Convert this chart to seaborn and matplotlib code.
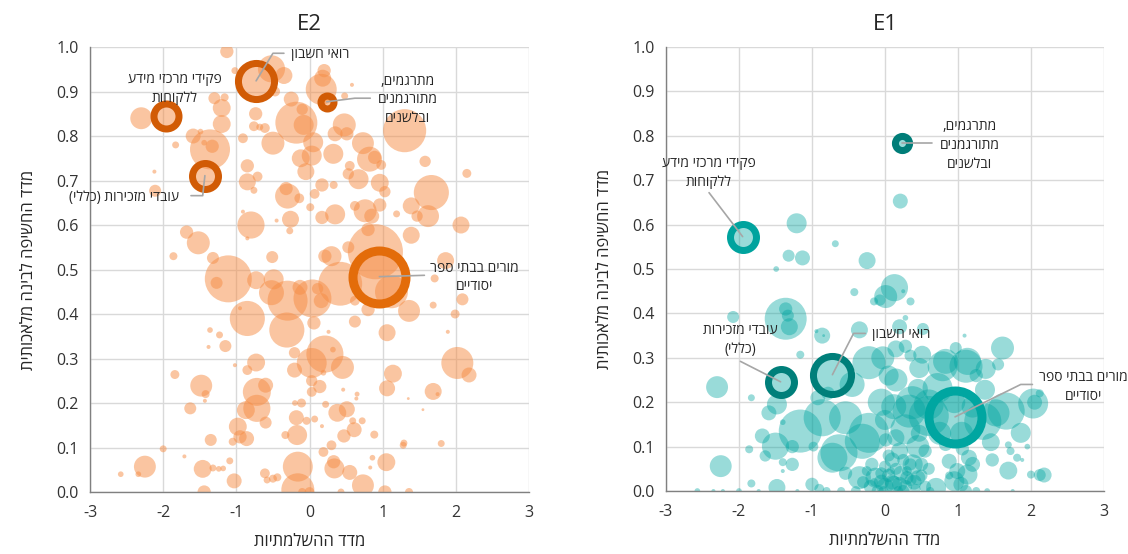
"""
Bubble charts: AI exposure index vs. complementarity index (E2 / E1).
"""

import numpy as np
import pandas as pd
import matplotlib
matplotlib.use('Agg')
import matplotlib.pyplot as plt
import seaborn as sns

sns.set_style('white')
plt.rcParams['font.family'] = ['Open Sans', 'DejaVu Sans']
plt.rcParams['axes.unicode_minus'] = False

# ---------------- data ----------------
X_LABEL = 'מדד ההשלמתיות'
Y_LABEL = 'מדד החשיפה לבינה מלאכותית'
X_TICKS = [-3, -2, -1, 0, 1, 2, 3]
Y_TICKS = [0.0, 0.1, 0.2, 0.3, 0.4, 0.5, 0.6, 0.7, 0.8, 0.9, 1.0]

# E2 occupations: complementarity, exposure, employment (thousands)
e2_x = [-2.30, -2.11, -2.12, -1.83, -1.36, -1.33, -1.59, -1.20, -1.20, -1.30, -1.16, -1.49, -1.44, -1.13,
        -0.736, -0.76, -0.68, -0.61, -0.50, -0.91, -0.85, -0.85, -0.71, -0.76, -0.80, -0.85, -0.91, -0.32,
        -0.30, -0.14, -0.26, -0.27, -0.45, -0.25, -0.18, -0.08, -0.35, -0.52, -1.02, -1.68, -1.52, -1.86,
        -1.32, -0.51, -0.98, -0.47,
        0.20, 0.18, 0.16, 0.48, 1.30, 0.58, 1.58, 2.15, 0.475, 0.35, 0.51, 0.73, 0.89, 0.82, 0.98, 0.96,
        1.03, 0.67, 0.55, 0.53, 0.325, 0.05, 0.03, 0.17, 0.33, 0.07, 0.01, 0.35, 0.17, 0.62, 0.76, 0.85,
        0.96, 1.665, 1.39, 1.62, 1.47, 1.19, 2.07, 1.39, 0.80, 0.53, 0.21, 1.86, -0.10, -0.12, -0.05, 0.90,
        0.30,
        -1.11, -1.27, -0.73, -0.49, -0.52, -0.30, -0.85, -0.95, -0.31, -1.36, -1.23, -1.15, -1.38, -0.205,
        -0.73, -0.85, -1.02, -0.205, -1.84, -1.48, -1.42, -1.43, -0.72, -0.60, -0.72, -0.87, -1.63, -0.60,
        -0.98, -0.95, -0.86, -1.05, -1.35, -0.18, -0.17, -0.33, -2.00, -2.25, -2.58, -2.34, -1.46, -1.32,
        -1.09, -1.03, -0.61, -0.58, -0.50, -0.44, -0.16, -0.16, -1.44, -1.71, -1.24, -1.18, -0.11, -0.20,
        0.42, 1.12, 1.36, 1.71, 1.69, 2.09, 1.99, 1.89, 1.06, 0.62, 0.80, 0.62, 0.21, 0.03, 0.45, 0.32,
        0.19, 1.14, 1.06, 2.02, 2.18, 1.69, 1.75, 0.03, 0.14, 0.03, 0.46, 0.65, 0.64, 0.22, 0.38, 0.51,
        0.07, -0.04, 0.59, 0.72, 0.61, 0.47, 0.885, 0.17, 0.30, 0.19, 1.28, 1.80, 1.05, 0.86, 0.83, 0.34,
        0.33, 0.55, 0.73, 1.03, 1.36, 0.43, 0.00, -0.10, 1.29, 1.55, 1.35, 0.26, 0.04, -0.13, 0.16, 0.11,
        0.06]
e2_y = [0.84, 0.677, 0.72, 0.78, 0.77, 0.777, 0.80, 0.827, 0.863, 0.885, 0.887, 0.81, 0.785, 0.99,
        0.85, 0.822, 0.82, 0.818, 0.784, 0.795, 0.733, 0.697, 0.709, 0.678, 0.60, 0.57, 0.63, 0.682,
        0.665, 0.66, 0.613, 0.587, 0.61, 0.883, 0.83, 0.825, 0.936, 0.951, 0.947, 0.584, 0.56, 0.53,
        0.526, 0.528, 0.93, 0.90,
        0.947, 0.93, 0.905, 0.89, 0.812, 0.915, 0.743, 0.716, 0.825, 0.805, 0.805, 0.784, 0.752, 0.748,
        0.735, 0.695, 0.675, 0.703, 0.733, 0.715, 0.76, 0.786, 0.756, 0.69, 0.69, 0.67, 0.64, 0.624,
        0.617, 0.643, 0.632, 0.62, 0.645, 0.673, 0.643, 0.62, 0.62, 0.625, 0.60, 0.577, 0.59, 0.55, 0.53,
        0.52, 0.86, 0.75, 0.72, 0.54, 0.53,
        0.479, 0.47, 0.476, 0.478, 0.448, 0.43, 0.39, 0.413, 0.364, 0.364, 0.353, 0.328, 0.326, 0.313,
        0.291, 0.274, 0.285, 0.274, 0.264, 0.239, 0.22, 0.205, 0.225, 0.24, 0.188, 0.184, 0.188, 0.156,
        0.147, 0.124, 0.12, 0.113, 0.117, 0.167, 0.128, 0.128, 0.097, 0.057, 0.04, 0.04, 0.052, 0.054,
        0.07, 0.025, 0.042, 0.027, 0.03, 0.033, 0.057, 0.005, 0.0, 0.08, 0.052, 0.053, 0.2, 0.20,
        0.468, 0.45, 0.407, 0.48, 0.42, 0.433, 0.40, 0.36, 0.358, 0.383, 0.41, 0.43, 0.31, 0.29, 0.28,
        0.32, 0.268, 0.266, 0.233, 0.29, 0.263, 0.226, 0.22, 0.25, 0.237, 0.225, 0.23, 0.22, 0.21, 0.197,
        0.178, 0.186, 0.164, 0.16, 0.16, 0.16, 0.14, 0.126, 0.129, 0.148, 0.105, 0.09, 0.105, 0.109,
        0.067, 0.077, 0.055, 0.053, 0.068, 0.044, 0.015, 0.0, 0.0, 0.0, 0.0, 0.0, 0.11, 0.185, 0.21, 0.36,
        0.435, 0.46, 0.43, 0.457, 0.38]
e2_emp = [30, 9, 1, 3, 100, 11, 14, 20, 20, 9, 4, 2, 2, 11,
          11, 6, 3, 6, 33, 6, 11, 18, 6, 3, 46, 1, 1, 11,
          39, 6, 18, 3, 1, 14, 110, 25, 18, 46, 3, 11, 33, 4,
          9, 9, 2, 6,
          11, 18, 60, 3, 116, 1, 8, 5, 33, 14, 11, 30, 11, 39, 6, 20,
          8, 25, 6, 8, 25, 25, 25, 11, 4, 6, 4, 25, 11, 6, 33, 14,
          11, 77, 18, 30, 8, 3, 18, 18, 11, 9, 11, 18, 8, 20, 18, 190,
          25,
          138, 9, 20, 25, 39, 100, 77, 1, 77, 2, 3, 9, 1, 8,
          20, 6, 1, 14, 5, 30, 4, 1, 49, 14, 46, 20, 9, 9,
          20, 11, 14, 4, 9, 14, 25, 4, 3, 30, 2, 2, 20, 3,
          3, 14, 6, 3, 4, 4, 56, 68, 11, 1, 2, 2, 5, 2,
          120, 68, 30, 4, 3, 9, 5, 1, 18, 9, 11, 6, 86, 56, 33, 2,
          2, 20, 16, 64, 14, 18, 1, 8, 11, 6, 1, 1.5, 1, 3, 20, 16,
          3, 4, 3, 3, 14, 11, 4, 1, 6, 6, 3, 3, 20, 2, 1, 25,
          11, 14, 30, 11, 4, 3, 6, 4, 3, 0.5, 0.5, 1, 90, 14, 14, 8,
          11]

# E1 occupations
e1_x = [0.21, -1.21, -0.68, -1.32, -1.13, -0.245, -1.49,
        -1.36, -1.36, -1.31, -1.33, -2.08, -0.86, -0.35, -0.42, 0.13, 0.01, -0.07, 0.25, 0.35, 0.28,
        -1.16, -0.84, -2.30, -1.83, -1.48, -1.59, -1.16, -0.86, -0.54, -0.31, -0.72, -1.50, -1.68, -1.27,
        -0.98, -1.40, -1.86, -2.25, -1.64, -1.40, -1.27, -1.40, -1.83, -1.48, -2.57, -2.35, -2.22, -2.00,
        -1.73, -1.20, -1.00, -0.90, -0.35, -0.54, -0.13, -0.18, -0.80, -0.60,
        0.20, 0.28, 0.51, -0.22, -0.03, 0.05, 1.61, 0.79, 1.11, 1.38, 1.55, 1.25, 0.375, 0.28, 0.60,
        -0.63, -0.22, 0.00, 1.52, 2.03, 2.05, 2.12, 1.86, 1.47, 1.15, 0.99, 0.88, 0.95, 1.11,
        0.47, 0.72, 0.83, 0.97, 1.13, 1.37, 0.60, 0.33, 0.12, 1.34, 1.66, 1.81, 1.88, 1.69, 2.00, 2.12,
        2.18, 1.13, 0.88, 0.70, 1.04, 0.38, 0.20, 0.01, 0.15, 0.47, 0.83, 1.06, 1.25, 1.40, 1.75, 0.55,
        0.45,
        -0.05, 0.05, 0.12, 0.22, 0.28, 0.35, 0.45, 0.55, -0.20, -0.10, 0.00, 0.10, 0.30, 0.42, -0.25,
        -0.02, 0.18, 0.62, 0.08, -0.15, 0.25, 0.50,
        -0.45, 0.15, -0.05, 0.45, -0.92, -0.78, 0.95, 1.20, 1.05, 0.75, 1.45, 1.95, 1.20, 0.15, 0.35,
        -0.15, 0.52, 1.09, 1.69, 1.72, -0.94,
        0.00, 0.10, 0.20, 0.30, 0.40, 0.15, -0.05, 0.25, 0.50, 0.35, -0.30, -0.40, 0.60, 0.05]
e1_y = [0.653, 0.603, 0.557, 0.53, 0.525, 0.519, 0.50,
        0.388, 0.41, 0.37, 0.395, 0.392, 0.35, 0.363, 0.448, 0.458, 0.438, 0.43, 0.45, 0.427, 0.39,
        0.307, 0.35, 0.234, 0.21, 0.195, 0.176, 0.135, 0.165, 0.165, 0.112, 0.075, 0.101, 0.124, 0.10,
        0.10, 0.155, 0.094, 0.056, 0.079, 0.065, 0.06, 0.045, 0.017, 0.008, 0.0, 0.0, 0.0, 0.0,
        0.0, 0.0, 0.015, 0.005, 0.03, 0.04, 0.03, 0.06, 0.0, 0.0,
        0.37, 0.326, 0.307, 0.289, 0.30, 0.26, 0.322, 0.281, 0.281, 0.275, 0.285, 0.26, 0.199, 0.139,
        0.169, 0.086, 0.131, 0.16, 0.176, 0.197, 0.20, 0.22, 0.131, 0.07, 0.075, 0.045, 0.067,
        0.022, 0.0,
        0.277, 0.232, 0.292, 0.322, 0.292, 0.228, 0.195, 0.18, 0.19, 0.157, 0.18, 0.075, 0.07, 0.046,
        0.037, 0.036, 0.036, 0.037, 0.035, 0.007, 0.015, 0.06, 0.09, 0.115, 0.12, 0.13, 0.105, 0.095,
        0.0, 0.0, 0.0, 0.09, 0.10,
        0.02, 0.035, 0.015, 0.04, 0.01, 0.025, 0.03, 0.01, 0.01, 0.0, 0.055, 0.07, 0.045, 0.005, 0.045,
        0.0, 0.0, 0.0, 0.045, 0.02, 0.07, 0.06,
        0.24, 0.25, 0.20, 0.23, 0.21, 0.22, 0.20, 0.19, 0.13, 0.13, 0.11, 0.10, 0.06, 0.32, 0.305,
        0.427, 0.365, 0.35, 0.104, 0.09, 0.36,
        0.01, 0.02, 0.015, 0.03, 0.02, 0.05, 0.04, 0.0, 0.035, 0.06, 0.02, 0.0, 0.05, 0.08]
e1_emp = [14, 25, 3, 9, 14, 18, 2,
          110, 11, 18, 9, 9, 16, 18, 4, 46, 33, 8, 1, 4, 2,
          4, 0.5, 30, 3, 25, 14, 116, 86, 68, 77, 56, 46, 14, 11,
          6, 2, 4, 30, 8, 4, 11, 1, 4, 18, 2, 1, 1, 2,
          1, 1, 11, 6, 33, 11, 25, 11, 4, 4,
          14, 11, 20, 68, 33, 25, 33, 56, 68, 25, 9, 11, 68, 56, 100,
          86, 100, 25, 46, 56, 14, 4, 25, 11, 16, 16, 14, 25, 9,
          25, 56, 39, 9, 46, 25, 56, 68, 39, 86, 86, 4, 1, 20, 4, 9,
          14, 25, 4, 25, 14, 25, 18, 11, 18, 18, 11, 11, 4, 2, 1, 11,
          33,
          14, 11, 18, 14, 11, 9, 14, 9, 11, 9, 9, 14, 6, 6, 6,
          6, 6, 4, 4, 4, 9, 11,
          39, 33, 46, 25, 14, 11, 30, 30, 33, 33, 20, 2, 14, 18, 9,
          4, 9, 1, 3, 4, 1,
          18, 14, 14, 11, 14, 9, 9, 9, 9, 9, 9, 6, 9, 9]

# highlighted occupations (same order in both panels)
HL_NAMES = ['רואי חשבון', 'פקידי מרכזי מידע ללקוחות', 'עובדי מזכירות (כללי)',
            'מתרגמים, מתורגמנים ובלשנים', 'מורים בבתי ספר יסודיים']
e2_hl_x = [-0.73, -1.955, -1.43, 0.235, 0.955]
e2_hl_y = [0.924, 0.845, 0.711, 0.877, 0.484]
e2_hl_emp = [116, 64, 68, 25, 240]
e1_hl_x = [-0.72, -1.95, -1.43, 0.24, 0.96]
e1_hl_y = [0.262, 0.573, 0.246, 0.783, 0.167]
e1_hl_emp = [127, 68, 68, 28, 240]

# ---------------- styles / layout ----------------
EMP_MAX = 250
PX = 0.72                      # points per pixel at dpi 100
SMAX = (PX * 4) ** 2 * EMP_MAX # bubble diameter = 4 * sqrt(emp) px

E2_COLOR, E2_ALPHA = '#F68D45', 0.5
E2_RING = ['#D15B05', '#D15B05', '#D15B05', '#D15B05', '#E36C0A']
E1_COLOR, E1_ALPHA = '#00A5A0', 0.4
E1_RING = ['#007F7A', '#00A39E', '#007F7A', '#007D78', '#00A6A1']
RING_PX = [7, 7, 7, 7, 9]
LEADER = '#A6A6A6'
TEXT = '#262626'

# label text positions and leader lines (data coords)
E2_NOTES = [
    ('רואי חשבון', (0.14, 0.984), [(-0.73, 0.924), (-0.50, 0.986), (-0.35, 0.986)]),
    ('פקידי מרכזי מידע\nללקוחות', (-1.84, 0.905), None),
    ('עובדי מזכירות (כללי)', (-2.54, 0.662), [(-1.43, 0.711), (-1.46, 0.666), (-1.62, 0.666)]),
    ('מתרגמים,\nמתורגמנים\nובלשנים', (1.34, 0.881), [(0.235, 0.877), (0.62, 0.885), (0.83, 0.885)]),
    ('מורים בבתי ספר\nיסודיים', (2.25, 0.482), [(0.955, 0.484), (1.57, 0.487)]),
]
E1_NOTES = [
    ('רואי חשבון', (0.22, 0.353), [(-0.72, 0.262), (-0.43, 0.355), (-0.27, 0.355)]),
    ('פקידי מרכזי מידע\nללקוחות', (-2.41, 0.717), [(-2.41, 0.672), (-1.95, 0.573)]),
    ('עובדי מזכירות\n(כללי)', (-1.98, 0.34), [(-1.98, 0.292), (-1.43, 0.246)]),
    ('מתרגמים,\nמתורגמנים\nובלשנים', (1.16, 0.778), [(0.24, 0.783), (0.65, 0.783)]),
    ('מורים בבתי ספר\nיסודיים', (2.72, 0.234), [(0.96, 0.167), (1.86, 0.24), (2.02, 0.24)]),
]


def vis(text):
    """matplotlib has no bidi: put each Hebrew line into visual order."""
    swap = str.maketrans('()', ')(')
    return '\n'.join(line[::-1].translate(swap) for line in text.split('\n'))


def draw_panel(ax, x, y, emp, color, alpha, hl_x, hl_y, hl_emp, ring_colors, title, notes):
    df = pd.DataFrame({'x': x, 'y': y, 'emp': emp}).sort_values('emp', ascending=False)
    sns.scatterplot(data=df, x='x', y='y', size='emp', sizes=(0, SMAX), size_norm=(0, EMP_MAX),
                    color=color, alpha=alpha, edgecolor='none', linewidth=0, legend=False, ax=ax)

    face = matplotlib.colors.to_rgba(color, alpha)
    for hx, hy, he, rc, t in zip(hl_x, hl_y, hl_emp, ring_colors, RING_PX):
        d = 4 * np.sqrt(he)
        sns.scatterplot(x=[hx], y=[hy], s=(PX * (d - t)) ** 2, facecolor=face, edgecolor=rc,
                        linewidth=PX * t, legend=False, ax=ax, zorder=5)

    for text, (tx, ty), line in notes:
        if line:
            lx, ly = zip(*line)
            ax.plot(lx, ly, color=LEADER, lw=1.2, clip_on=False, zorder=6)
        ax.text(tx, ty, vis(text), ha='center', va='center', fontsize=10, color=TEXT,
                linespacing=1.35, multialignment='center', clip_on=False, zorder=7)

    ax.set_xlim(-3, 3)
    ax.set_ylim(0, 1)
    ax.set_xticks(X_TICKS)
    ax.set_xticklabels([str(v) for v in X_TICKS])
    ax.set_yticks(Y_TICKS)
    ax.set_yticklabels([f'{v:.1f}' for v in Y_TICKS])
    ax.tick_params(axis='x', length=5, width=0.9, color='#808080', direction='out',
                   labelsize=11.5, labelcolor='#333333', pad=4)
    ax.tick_params(axis='y', length=0, labelsize=11.5, labelcolor='#333333', pad=8)
    ax.grid(True, color='#D9D9D9', linewidth=1.0)
    ax.set_axisbelow(True)
    for side in ['top', 'right']:
        ax.spines[side].set_visible(False)
    for side in ['left', 'bottom']:
        ax.spines[side].set_color('#808080')
        ax.spines[side].set_linewidth(1.0)
    ax.set_title(title, fontsize=16, pad=12, color=TEXT)
    ax.set_xlabel(vis(X_LABEL), fontsize=12, labelpad=10, color=TEXT)
    ax.set_ylabel(vis(Y_LABEL), fontsize=12, labelpad=14, color=TEXT)


fig = plt.figure(figsize=(11.28, 5.54), dpi=100)
ax_e2 = fig.add_axes([0.0798, 0.1119, 0.3892, 0.8032])
ax_e1 = fig.add_axes([0.5904, 0.1137, 0.3883, 0.8014])

draw_panel(ax_e2, e2_x, e2_y, e2_emp, E2_COLOR, E2_ALPHA, e2_hl_x, e2_hl_y, e2_hl_emp, E2_RING,
           'E2', E2_NOTES)
draw_panel(ax_e1, e1_x, e1_y, e1_emp, E1_COLOR, E1_ALPHA, e1_hl_x, e1_hl_y, e1_hl_emp, E1_RING,
           'E1', E1_NOTES)

fig.savefig('out.png', dpi=100)
plt.close(fig)
